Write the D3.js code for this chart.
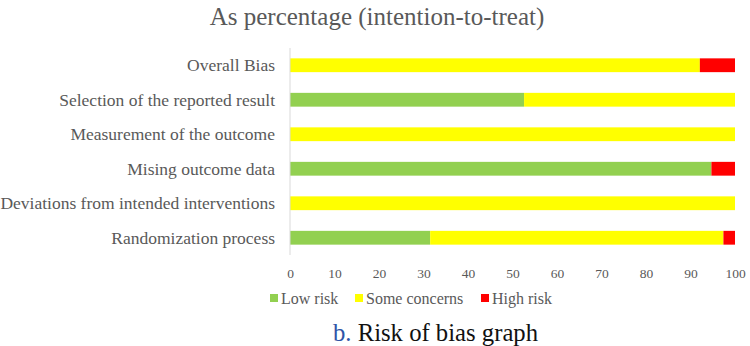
<!DOCTYPE html>
<html>
<head>
<meta charset="utf-8">
<script src="https://cdn.jsdelivr.net/npm/d3@7"></script>
<style>
  body { margin: 0; background: #fff; }
</style>
</head>
<body>
<div id="chart"></div>
<script>
// domains, bottom to top as in the picture
const domains = ["Randomization process", "Deviations from intended interventions",
  "Mising outcome data", "Measurement of the outcome",
  "Selection of the reported result", "Overall Bias"];
// percentages
const lowRisk      = [31.5, 0, 94.7, 0, 52.6, 0];
const someConcerns = [65.9, 100, 0, 100, 47.4, 92.1];
const highRisk     = [2.6, 0, 5.3, 0, 0, 7.9];
const seriesNames  = ["Low risk", "Some concerns", "High risk"];
const seriesColors = ["#92d050", "#ffff00", "#ff0000"];
const xTicks = [0, 10, 20, 30, 40, 50, 60, 70, 80, 90, 100];

const FONT = '"Liberation Serif", "Times New Roman", serif';
const width = 750, height = 346;
// plot area
const margin = {top: 48, left: 290, right: 15, bottom: 91};
const cWidth = width - margin.left - margin.right;   // 445
const cHeight = height - margin.top - margin.bottom; // 207

const svg = d3.select('#chart').append('svg')
  .attr('width', width)
  .attr('height', height)
  .attr('font-family', FONT);

// title
svg.append('text')
  .attr('x', 377).attr('y', 25)
  .attr('text-anchor', 'middle')
  .attr('font-family', FONT)
  .attr('font-size', '25px')
  .attr('fill', '#595959')
  .text('As percentage (intention-to-treat)');

const g = svg.append('g').attr('transform', `translate(${margin.left},${margin.top})`);

const x = d3.scaleLinear().domain([0, 100]).range([0, cWidth]);
// top row first
const y = d3.scaleBand().domain(domains.slice().reverse()).range([0, cHeight]).paddingInner(0.6).paddingOuter(0.3);

// stack the three series
const rows = domains.map((d, i) => ({domain: d, low: lowRisk[i], some: someConcerns[i], high: highRisk[i]}));
const stacked = d3.stack().keys(["low", "some", "high"])(rows);

g.selectAll('.layer')
  .data(stacked)
  .enter().append('g')
  .attr('class', 'layer')
  .attr('fill', (d, i) => seriesColors[i])
  .selectAll('rect')
  .data(d => d)
  .enter().append('rect')
  .attr('x', d => x(d[0]))
  .attr('y', d => y(d.data.domain))
  .attr('width', d => Math.max(0, x(d[1]) - x(d[0])))
  .attr('height', y.bandwidth());

// left axis line
g.append('line')
  .attr('x1', 0).attr('x2', 0)
  .attr('y1', 0).attr('y2', cHeight)
  .attr('stroke', '#d9d9d9');

// category labels
g.selectAll('.cat')
  .data(domains)
  .enter().append('text')
  .attr('class', 'cat')
  .attr('x', -15)
  .attr('y', d => y(d) + y.bandwidth() / 2)
  .attr('dy', '0.35em')
  .attr('text-anchor', 'end')
  .attr('font-family', FONT)
  .attr('font-size', '17.5px')
  .attr('fill', '#595959')
  .text(d => d);

// x axis tick labels
const xAxis = d3.axisBottom(x).tickValues(xTicks).tickSize(0).tickPadding(0);
const ax = g.append('g')
  .attr('transform', `translate(0,${cHeight + 13})`)
  .call(xAxis)
  .attr('font-family', FONT);
ax.select('.domain').remove();
ax.selectAll('text')
  .attr('font-family', FONT)
  .attr('font-size', '13.5px')
  .attr('fill', '#595959');

// legend
const legendX = [270, 355, 481];
const legend = svg.selectAll('.legend')
  .data(seriesNames)
  .enter().append('g')
  .attr('class', 'legend')
  .attr('transform', (d, i) => `translate(${legendX[i]},298)`);
legend.append('rect')
  .attr('x', 0).attr('y', -4)
  .attr('width', 8).attr('height', 8)
  .attr('fill', (d, i) => seriesColors[i]);
legend.append('text')
  .attr('x', 11).attr('y', 0)
  .attr('dy', '0.35em')
  .attr('font-family', FONT)
  .attr('font-size', '16px')
  .attr('fill', '#595959')
  .text(d => d);

// caption
const cap = svg.append('text')
  .attr('x', 333).attr('y', 341)
  .attr('font-family', FONT)
  .attr('font-size', '24.7px');
cap.append('tspan').attr('fill', '#2e54a6').text('b. ');
cap.append('tspan').attr('fill', '#111').text('Risk of bias graph');
</script>
</body>
</html>
